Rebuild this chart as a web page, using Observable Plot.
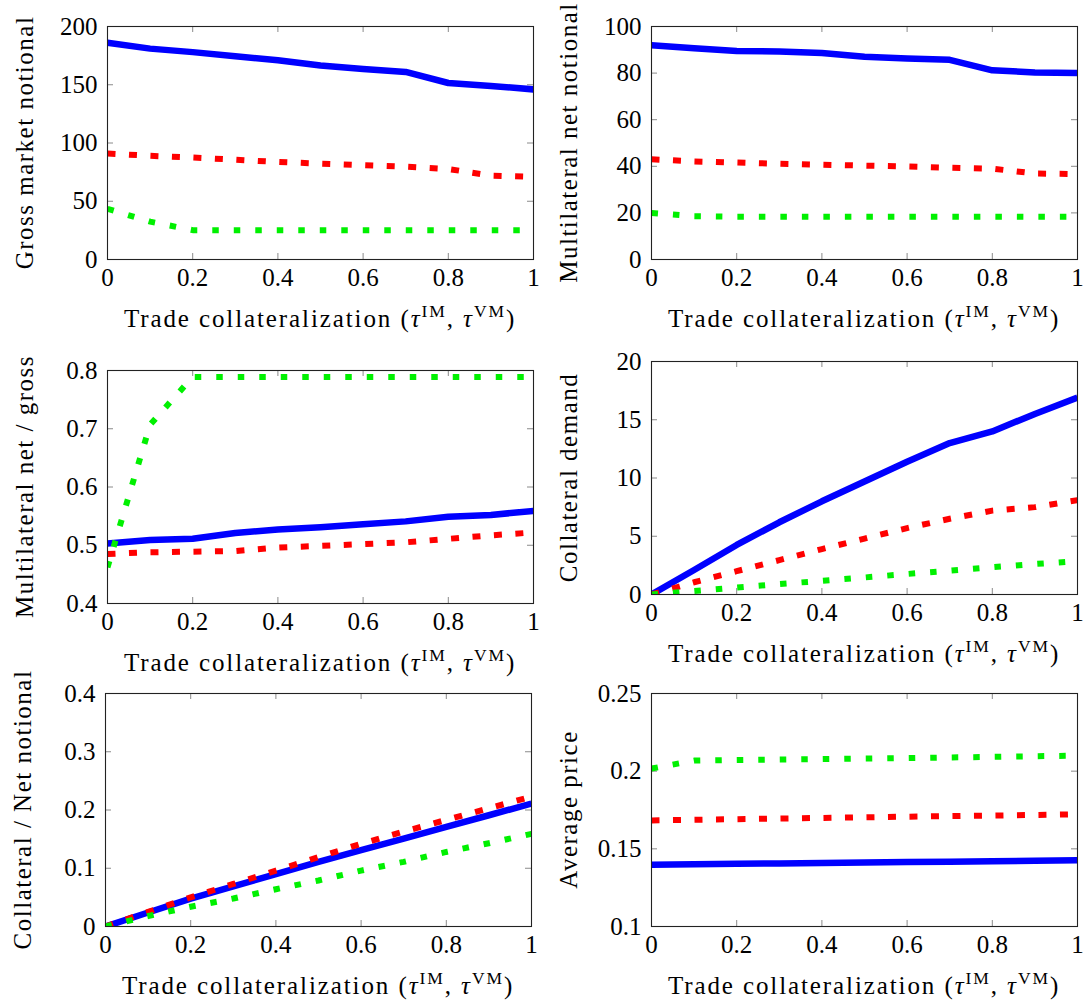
<!DOCTYPE html>
<html><head><meta charset="utf-8">
<script src="https://cdn.jsdelivr.net/npm/d3@7"></script>
<script src="https://cdn.jsdelivr.net/npm/@observablehq/plot@0.6"></script>
<style>
body{margin:0;background:#fff;}
#wrap{position:relative;width:1086px;height:1005px;overflow:hidden;}
#wrap svg{position:absolute;left:0;top:0;}
</style></head><body><div id="wrap"></div>
<script>
// x values: trade collateralization
const tau = [0, 0.1, 0.2, 0.3, 0.4, 0.5, 0.6, 0.7, 0.8, 0.9, 1];
const xTicks = [0, 0.2, 0.4, 0.6, 0.8, 1];
const xTitle = "Trade collateralization";

// Panel 1: Gross market notional
const grossBlue  = [186, 181, 178, 174.5, 171, 166.5, 163.5, 161, 151.5, 149, 146];
const grossRed   = [91, 89, 87.5, 85.7, 83.7, 82.3, 81, 79.7, 77.7, 72, 71];
const grossGreen = [43.5, 32.5, 25.2, 25.2, 25.2, 25.2, 25.2, 25.2, 25.2, 25.2, 25.2];
const grossTicks = [0, 50, 100, 150, 200];

// Panel 2: Multilateral net notional
const netBlue  = [92, 90.7, 89.5, 89.3, 88.6, 87, 86.3, 85.7, 81.2, 80.3, 80];
const netRed   = [43, 42.1, 41.6, 41.1, 40.7, 40.3, 39.9, 39.4, 39, 36.9, 36.7];
const netGreen = [20, 18.6, 18.4, 18.4, 18.4, 18.4, 18.4, 18.4, 18.4, 18.3, 18.3];
const netTicks = [0, 20, 40, 60, 80, 100];

// Panel 3: Multilateral net / gross
const ratioBlue  = [0.503, 0.509, 0.511, 0.521, 0.527, 0.531, 0.536, 0.541, 0.549, 0.552, 0.559];
const ratioRed   = [0.485, 0.488, 0.489, 0.490, 0.496, 0.499, 0.502, 0.505, 0.511, 0.517, 0.522];
const ratioGreen = [0.462, 0.707, 0.789, 0.789, 0.789, 0.789, 0.789, 0.789, 0.789, 0.789, 0.789];
const ratioTicks = [0.4, 0.5, 0.6, 0.7, 0.8];

// Panel 4: Collateral demand
const demandBlue  = [0, 2.1, 4.25, 6.2, 8.0, 9.7, 11.4, 13.0, 14.0, 15.5, 16.9];
const demandRed   = [0, 1.05, 2.0, 2.95, 3.9, 4.8, 5.7, 6.5, 7.2, 7.5, 8.1];
const demandGreen = [0, 0.3, 0.6, 0.9, 1.17, 1.46, 1.76, 2.05, 2.34, 2.62, 2.86];
const demandTicks = [0, 5, 10, 15, 20];

// Panel 5: Collateral / Net notional
const collatBlue  = [0, 0.024, 0.048, 0.069, 0.090, 0.111, 0.131, 0.151, 0.171, 0.191, 0.211];
const collatRed   = [0, 0.025, 0.050, 0.073, 0.096, 0.119, 0.142, 0.163, 0.183, 0.203, 0.223];
const collatGreen = [0, 0.018, 0.034, 0.048, 0.064, 0.079, 0.096, 0.111, 0.128, 0.143, 0.159];
const collatTicks = [0, 0.1, 0.2, 0.3, 0.4];

// Panel 6: Average price
const priceBlue  = [0.1398, 0.1401, 0.1404, 0.1406, 0.1409, 0.1412, 0.1415, 0.1417, 0.1420, 0.1423, 0.1426];
const priceRed   = [0.1683, 0.1687, 0.1691, 0.1695, 0.1699, 0.1703, 0.1707, 0.1711, 0.1714, 0.1718, 0.1722];
const priceGreen = [0.2017, 0.2068, 0.2072, 0.2075, 0.2078, 0.2081, 0.2084, 0.2088, 0.2092, 0.2096, 0.2100];
const priceTicks = [0.1, 0.15, 0.2, 0.25];

const panels = [
  {label: "Gross market notional", ticks: grossTicks, s: [grossBlue, grossRed, grossGreen], f: {l: 107, r: 533, t: 26, b: 259}},
  {label: "Multilateral net notional", ticks: netTicks, s: [netBlue, netRed, netGreen], f: {l: 651, r: 1077, t: 26, b: 259}},
  {label: "Multilateral net / gross", ticks: ratioTicks, s: [ratioBlue, ratioRed, ratioGreen], f: {l: 107, r: 533, t: 370, b: 603}},
  {label: "Collateral demand", ticks: demandTicks, s: [demandBlue, demandRed, demandGreen], f: {l: 651, r: 1077, t: 361, b: 594}},
  {label: "Collateral / Net notional", ticks: collatTicks, s: [collatBlue, collatRed, collatGreen], f: {l: 105, r: 531, t: 693, b: 926}},
  {label: "Average price", ticks: priceTicks, s: [priceBlue, priceRed, priceGreen], f: {l: 651, r: 1077, t: 693, b: 926}}
];

const seriesStyle = [
  {stroke: "#0000ff", strokeWidth: 6.5},
  {stroke: "#ff0000", strokeWidth: 6, strokeDasharray: "8,13.5"},
  {stroke: "#00f000", strokeWidth: 6, strokeDasharray: "6.5,15"}
];

const W = 1086, H = 1005;
const FONT = "'Liberation Serif', 'Times New Roman', serif";
const wrap = document.getElementById("wrap");

for (const p of panels) {
  const f = p.f;
  const fw = f.r - f.l, fh = f.b - f.t;
  const tickColor = "#8a8a8a";
  const lineMarks = p.s.map((vals, k) => Plot.line(tau.map((t, i) => ({x: t, y: vals[i]})), {
    x: "x", y: "y", clip: true, strokeLinecap: "butt", strokeLinejoin: "round", ...seriesStyle[k]
  }));
  const chart = Plot.plot({
    width: W, height: H,
    marginLeft: f.l, marginRight: W - f.r, marginTop: f.t, marginBottom: H - f.b,
    style: {fontFamily: FONT, fontSize: "25px", background: "transparent", overflow: "visible", color: "black"},
    x: {domain: [0, 1]},
    y: {domain: [p.ticks[0], p.ticks[p.ticks.length - 1]]},
    marks: [
      Plot.tickX(xTicks, {x: d => d, insetTop: fh - 6, stroke: tickColor}),
      Plot.tickX(xTicks, {x: d => d, insetBottom: fh - 6, stroke: tickColor}),
      Plot.tickY(p.ticks, {y: d => d, insetRight: fw - 6, stroke: tickColor}),
      Plot.tickY(p.ticks, {y: d => d, insetLeft: fw - 6, stroke: tickColor}),
      Plot.axisX({ticks: xTicks, tickSize: 0, tickPadding: 9, tickFormat: d => String(d), label: null}),
      Plot.axisY({ticks: p.ticks, tickSize: 0, tickPadding: 10, tickFormat: d => String(d), label: null}),
      ...lineMarks,
      Plot.frame({stroke: "#222", strokeWidth: 1.1})
    ]
  });
  const svg = d3.select(chart);
  // x-axis title with superscripts
  const xt = svg.append("text")
    .attr("x", (f.l + f.r) / 2).attr("y", f.b + 68)
    .attr("text-anchor", "middle")
    .style("font-family", FONT).style("font-size", "25px").style("letter-spacing", "1.9px")
    .attr("fill", "black");
  xt.append("tspan").text(xTitle + " (");
  xt.append("tspan").attr("font-style", "italic").text("τ");
  xt.append("tspan").attr("font-size", 17.5).attr("dy", -10).text("IM");
  xt.append("tspan").attr("dy", 10).text(", ");
  xt.append("tspan").attr("font-style", "italic").text("τ");
  xt.append("tspan").attr("font-size", 17.5).attr("dy", -10).text("VM");
  xt.append("tspan").attr("dy", 10).text(")");
  // y-axis title, rotated
  svg.append("text")
    .attr("transform", `translate(${f.l - 74},${(f.t + f.b) / 2}) rotate(-90)`)
    .attr("text-anchor", "middle")
    .style("font-family", FONT).style("font-size", "25px").style("letter-spacing", "1.5px")
    .attr("fill", "black")
    .text(p.label);
  wrap.appendChild(chart);
}
</script>
</body></html>
